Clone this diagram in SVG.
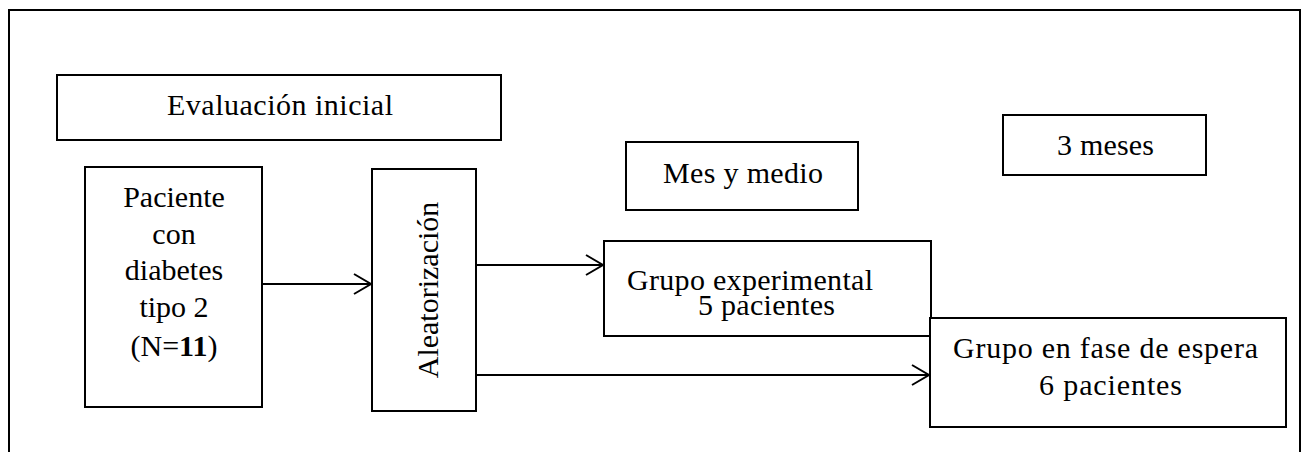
<svg xmlns="http://www.w3.org/2000/svg" width="1304" height="452" viewBox="0 0 1304 452">
<defs>
<style>
.box{fill:#fff;stroke:#000;stroke-width:2}
.frame{fill:none;stroke:#000;stroke-width:2}
.t{font-family:'Liberation Serif','Tinos','Times New Roman','DejaVu Serif',serif;font-size:30px;fill:#000}
.c{stroke:#000;stroke-width:2;fill:none}
</style>
<marker id="arr" markerWidth="20" markerHeight="22" refX="18" refY="11" orient="auto" markerUnits="userSpaceOnUse">
<path d="M1,1 L18,11 L1,21" fill="none" stroke="#000" stroke-width="2"/>
</marker>
</defs>
<rect width="1304" height="452" fill="#fff"/>
<path class="frame" d="M9,460 V10 H1300 V460"/>
<g font-family="Liberation Serif, Times New Roman, serif">
<g id="evaluacion"><rect class="box" x="57" y="75" width="444" height="65"/>
<text class="t" x="167" y="115" textLength="226" lengthAdjust="spacing">Evaluación  inicial</text></g>
<g id="paciente"><rect class="box" x="85" y="167" width="177" height="240"/>
<text class="t" text-anchor="middle"><tspan x="174" y="207">Paciente</tspan><tspan x="174" y="244">con</tspan><tspan x="174" y="280">diabetes</tspan><tspan x="174" y="317">tipo  2</tspan><tspan x="174" y="356">(N=<tspan font-weight="bold">11</tspan>)</tspan></text></g>
<g id="aleatorizacion"><rect class="box" x="372" y="169" width="104" height="242"/>
<text class="t" transform="translate(438,290) rotate(-90)" text-anchor="middle">Aleatorización</text></g>
<g id="mes-y-medio"><rect class="box" x="626" y="142" width="232" height="68"/>
<text class="t" x="663" y="183" textLength="160" lengthAdjust="spacing">Mes y medio</text></g>
<g id="tres-meses"><rect class="box" x="1003" y="115" width="203" height="60"/>
<text class="t" x="1057" y="155" textLength="97" lengthAdjust="spacing">3 meses</text></g>
<g id="experimental"><rect class="box" x="604" y="241" width="327" height="95"/>
<text class="t"><tspan x="627" y="290" textLength="246" lengthAdjust="spacing">Grupo  experimental</tspan><tspan x="698" y="315" textLength="137" lengthAdjust="spacing">5 pacientes</tspan></text></g>
<g id="espera"><rect class="box" x="930" y="318" width="356" height="109"/>
<text class="t"><tspan x="953" y="358" textLength="305" lengthAdjust="spacing">Grupo  en fase  de espera</tspan><tspan x="1039" y="395" textLength="143" lengthAdjust="spacing">6  pacientes</tspan></text></g>
</g>
<g id="connectors">
<line class="c" x1="262" y1="284" x2="371" y2="284" marker-end="url(#arr)"/>
<line class="c" x1="476" y1="265" x2="603" y2="265" marker-end="url(#arr)"/>
<line class="c" x1="476" y1="375" x2="929" y2="375" marker-end="url(#arr)"/>
</g>
</svg>
